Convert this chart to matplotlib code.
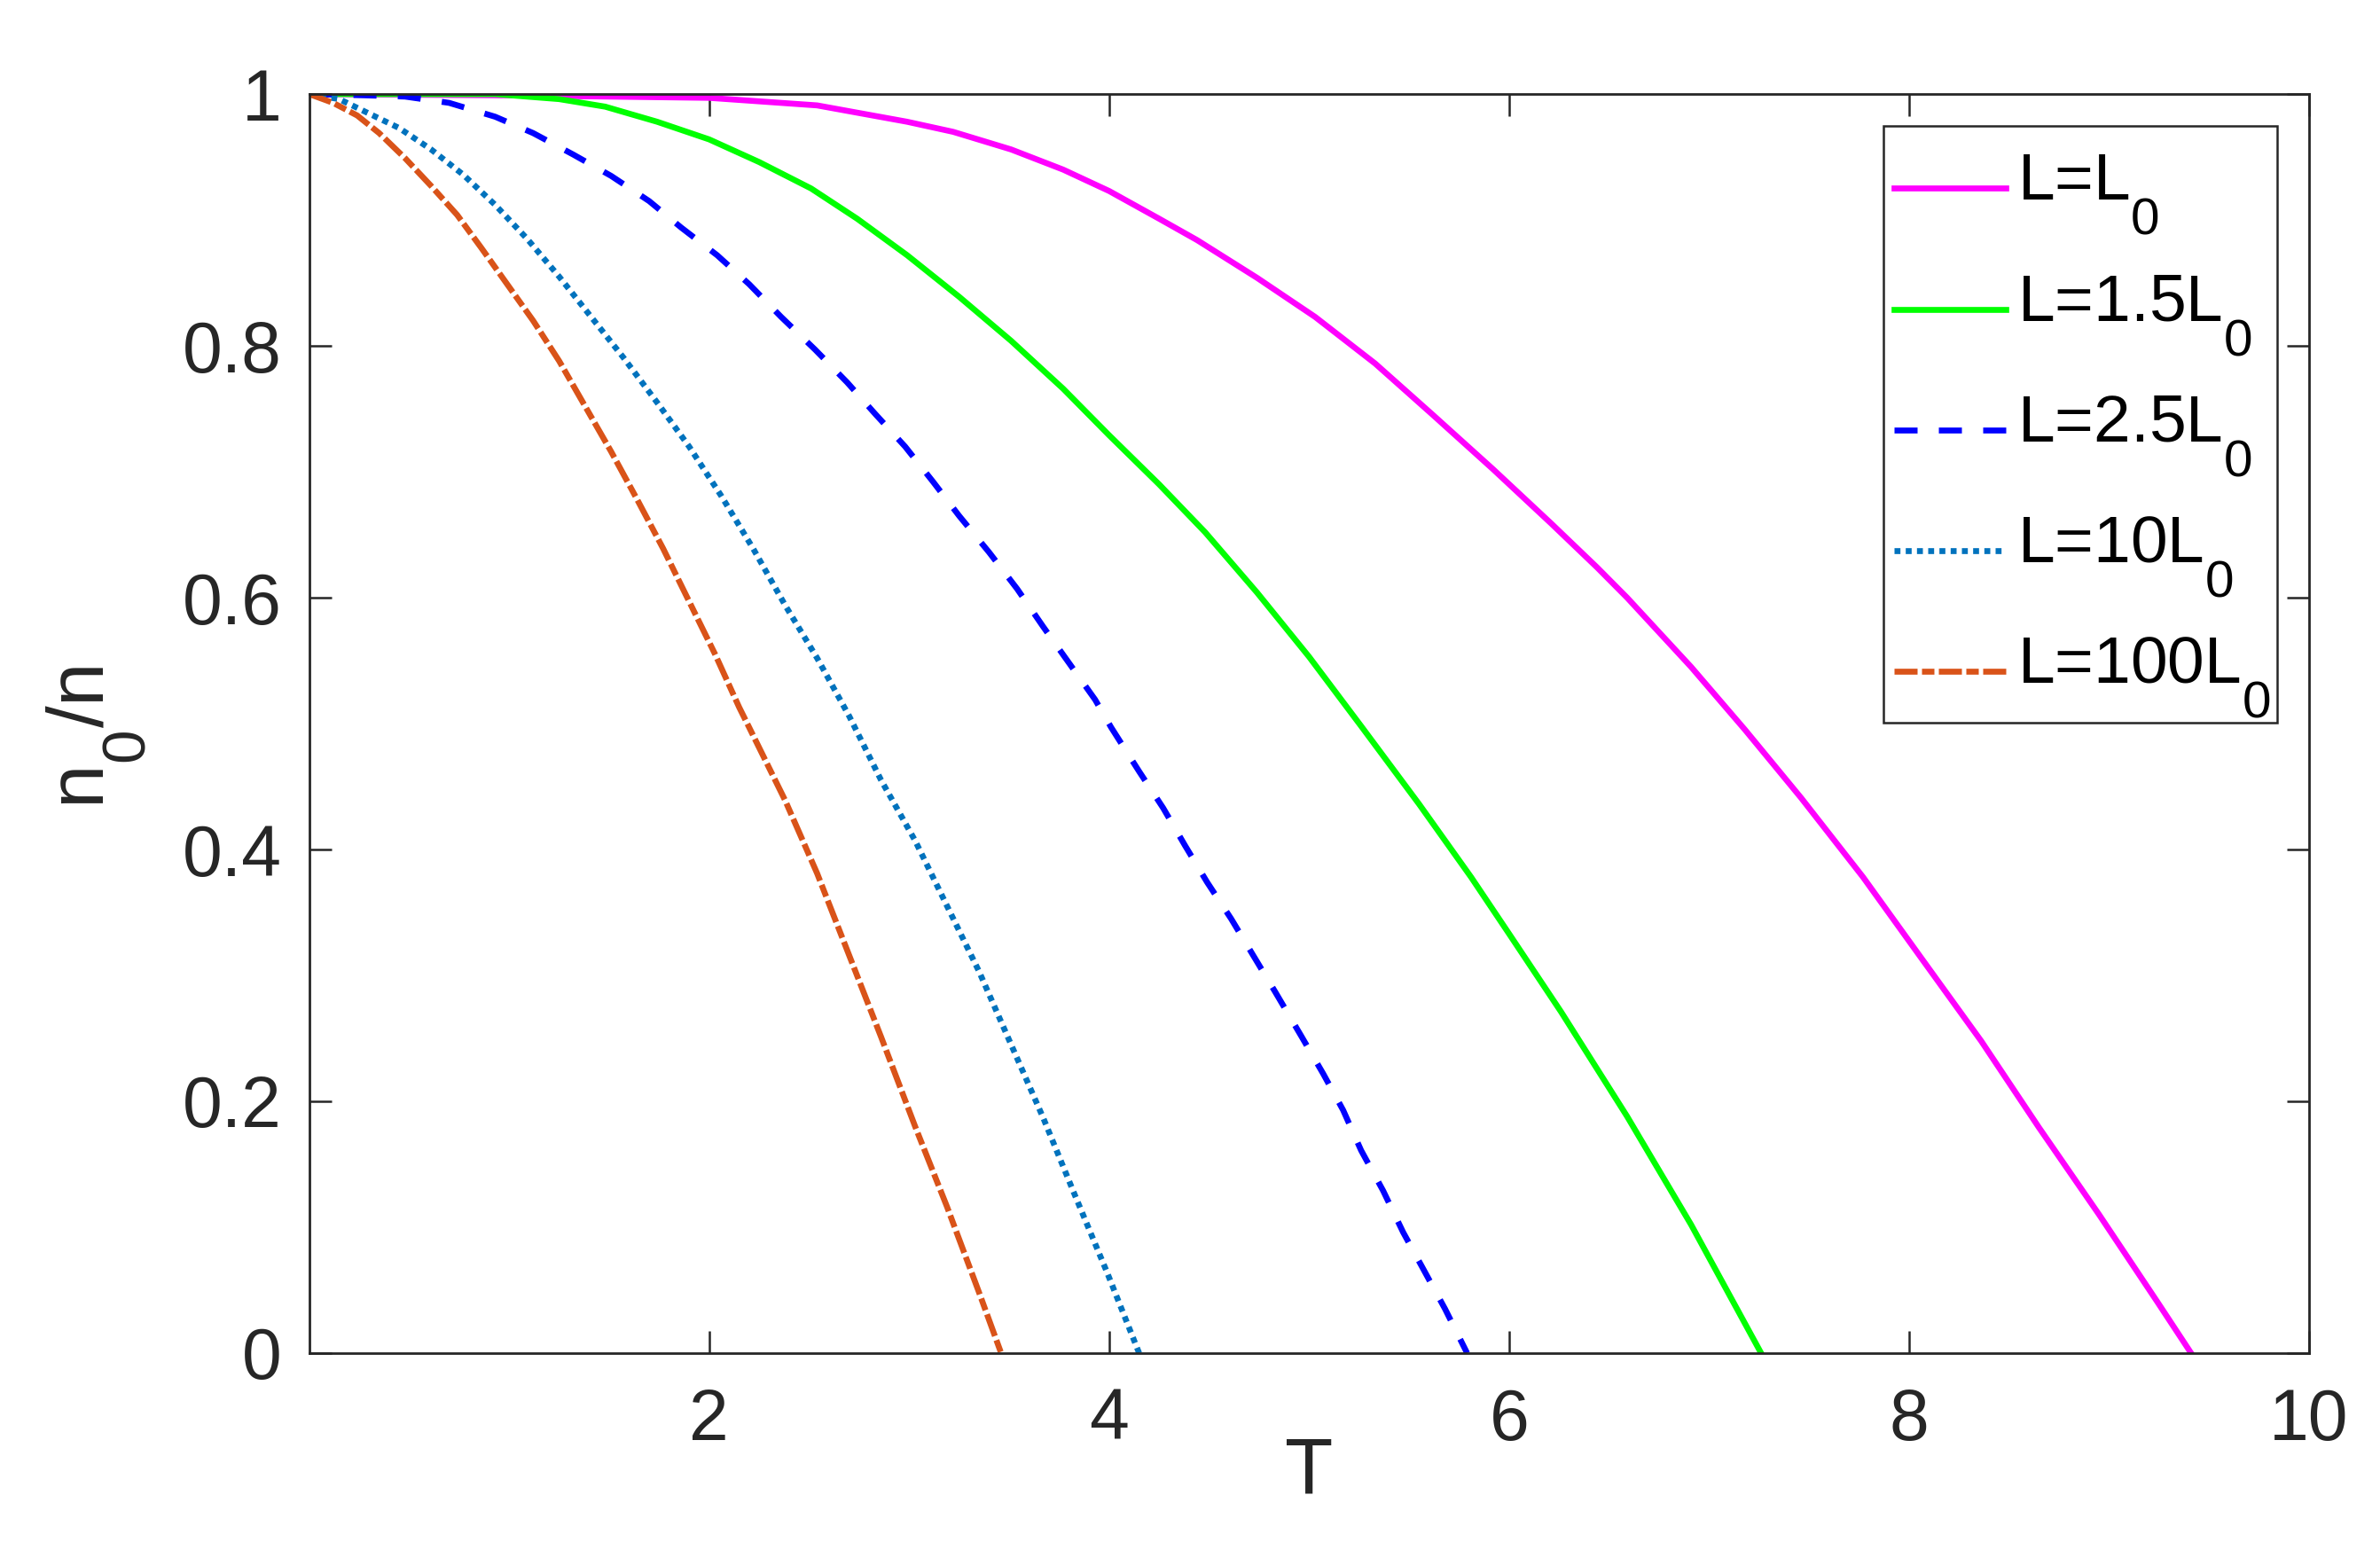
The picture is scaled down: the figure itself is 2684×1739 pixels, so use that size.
import matplotlib
matplotlib.use("Agg")
import numpy as np
import matplotlib.pyplot as plt
from matplotlib.patches import Rectangle

plt.rcParams['font.family'] = ['Liberation Sans', 'DejaVu Sans']
plt.rcParams['mathtext.fontset'] = 'custom'
plt.rcParams['mathtext.rm'] = 'Liberation Sans'
plt.rcParams['mathtext.it'] = 'Liberation Sans'
plt.rcParams['mathtext.default'] = 'regular'

# MATLAB-like subscripts: a bit larger and lower than matplotlib's default
try:
    import matplotlib._mathtext as _mt
    _mt.SHRINK_FACTOR = 0.78
    _mt.FontConstantsBase.sub1 = 1.0
except Exception:
    pass

# ---- data ----
labels = ['L=L$_0$', 'L=1.5L$_0$', 'L=2.5L$_0$', 'L=10L$_0$', 'L=100L$_0$']

T_L1 = [0, 1.0, 2.0, 2.54, 2.99, 3.22, 3.51, 3.77, 4.0, 4.25, 4.44, 4.74, 5.03, 5.33,
        5.62, 5.92, 6.21, 6.44, 6.59, 6.91, 7.18, 7.46, 7.77, 8.06, 8.36, 8.65, 8.95,
        9.24, 9.41]
n_L1 = [1, 0.999, 0.997, 0.991, 0.978, 0.970, 0.956, 0.940, 0.923, 0.901, 0.884, 0.854,
        0.823, 0.786, 0.745, 0.702, 0.659, 0.624, 0.600, 0.545, 0.495, 0.441, 0.378,
        0.314, 0.248, 0.179, 0.110, 0.041, 0.0]

T_L15 = [0, 0.93, 1.25, 1.48, 1.74, 2.0, 2.25, 2.51, 2.74, 2.99, 3.25, 3.51, 3.77, 4.0,
         4.25, 4.48, 4.74, 5.0, 5.26, 5.55, 5.81, 6.0, 6.26, 6.59, 6.91, 7.26]
n_L15 = [1, 1.0, 0.996, 0.99, 0.978, 0.964, 0.946, 0.925, 0.901, 0.872, 0.839, 0.804,
         0.766, 0.729, 0.690, 0.652, 0.604, 0.553, 0.498, 0.436, 0.378, 0.333, 0.271,
         0.188, 0.102, 0.0]

T_L25 = [0, 0.28, 0.48, 0.70, 0.93, 1.12, 1.32, 1.51, 1.70, 1.86, 2.04, 2.20, 2.36, 2.53,
         2.69, 2.83, 2.98, 3.12, 3.25, 3.40, 3.54, 3.67, 3.80, 3.93, 4.01, 4.15, 4.27,
         4.38, 4.49, 4.61, 4.72, 4.83, 4.96, 5.07, 5.17, 5.26, 5.37, 5.47, 5.57, 5.68, 5.79]
n_L25 = [1, 0.999, 0.998, 0.993, 0.982, 0.969, 0.952, 0.935, 0.915, 0.894, 0.872, 0.849,
         0.823, 0.797, 0.771, 0.746, 0.720, 0.692, 0.665, 0.636, 0.607, 0.577, 0.548,
         0.519, 0.497, 0.462, 0.433, 0.403, 0.374, 0.345, 0.316, 0.287, 0.252, 0.222,
         0.193, 0.161, 0.129, 0.096, 0.067, 0.035, 0.0]

T_L10 = [0, 0.15, 0.28, 0.45, 0.61, 0.77, 0.93, 1.09, 1.25, 1.41, 1.57, 1.74, 1.90, 2.06,
         2.22, 2.38, 2.54, 2.70, 2.86, 3.03, 3.19, 3.35, 3.51, 3.67, 3.83, 3.99, 4.15]
n_L10 = [1, 0.996, 0.986, 0.973, 0.956, 0.936, 0.912, 0.885, 0.855, 0.823, 0.791, 0.755,
         0.720, 0.681, 0.639, 0.594, 0.552, 0.506, 0.455, 0.407, 0.355, 0.303, 0.245,
         0.187, 0.125, 0.064, 0.0]

T_L100 = [0, 0.12, 0.24, 0.35, 0.48, 0.61, 0.74, 0.86, 0.99, 1.12, 1.25, 1.38, 1.51, 1.64,
          1.77, 1.90, 2.03, 2.15, 2.20, 2.38, 2.54, 2.70, 2.86, 3.03, 3.19, 3.35, 3.46]
n_L100 = [1, 0.993, 0.983, 0.969, 0.949, 0.927, 0.904, 0.878, 0.849, 0.820, 0.788, 0.752,
          0.716, 0.678, 0.639, 0.597, 0.555, 0.513, 0.497, 0.439, 0.381, 0.316, 0.251,
          0.180, 0.116, 0.048, 0.0]

xticks = [2, 4, 6, 8, 10]
yticks = [0, 0.2, 0.4, 0.6, 0.8, 1]
yticklabels = ['0', '0.2', '0.4', '0.6', '0.8', '1']

# ---- figure ----
fig = plt.figure(figsize=(13.42, 8.695), dpi=200)
ax = fig.add_axes([0.1299, 0.1225, 0.8403, 0.8165])

axc = '#262626'
lw = 2.4
ax.plot(T_L1, n_L1, color='#FF00FF', lw=lw, linestyle='-', label=labels[0])
ax.plot(T_L15, n_L15, color='#00FF00', lw=lw, linestyle='-', label=labels[1])
ax.plot(T_L25, n_L25, color='#0000FF', lw=lw, linestyle=(0, (3.9, 3.6)), label=labels[2])
ax.plot(T_L10, n_L10, color='#0072BD', lw=lw, linestyle=(0, (1.0, 0.9)), label=labels[3])
ax.plot(T_L100, n_L100, color='#D95319', lw=lw, linestyle=(0, (3.9, 0.75, 2.1, 0.75)),
        label=labels[4])

ax.set_xlim(0, 10)
ax.set_ylim(0, 1)
ax.set_xticks(xticks)
ax.set_xticklabels([str(t) for t in xticks])
ax.set_yticks(yticks)
ax.set_yticklabels(yticklabels)

for s in ax.spines.values():
    s.set_color(axc)
    s.set_linewidth(1.0)
ax.tick_params(axis='both', which='major', direction='in', length=9, width=0.9,
               colors=axc, labelsize=29, top=True, right=True)
ax.tick_params(axis='x', pad=14)
ax.tick_params(axis='y', pad=11)

ax.set_xlabel('T', fontsize=32, color=axc)
ax.xaxis.set_label_coords(0.5, -0.066)
ax.set_ylabel('n$_0$/n', fontsize=32, color=axc)
ax.yaxis.set_label_coords(-0.0806, 0.4894)

# legend box (MATLAB style, tight left padding)
box = Rectangle((0.787, 0.501), 0.197, 0.474, transform=ax.transAxes,
                facecolor='white', edgecolor=axc, linewidth=0.9, zorder=4.9)
ax.add_patch(box)
leg = ax.legend(loc='upper left', bbox_to_anchor=(0.7926, 0.9537), borderaxespad=0,
                borderpad=0, fontsize=27, handlelength=1.67, handletextpad=0.18,
                labelspacing=0.543, frameon=False)
leg.set_zorder(5)
for t in leg.get_texts():
    t.set_color('black')
# MATLAB draws the legend sample lines closer to the text baseline
for ln in leg.get_lines():
    ln.set_ydata(np.asarray(ln.get_ydata(), dtype=float) - 4.6)

fig.savefig('out.png', dpi=200, facecolor='white')
